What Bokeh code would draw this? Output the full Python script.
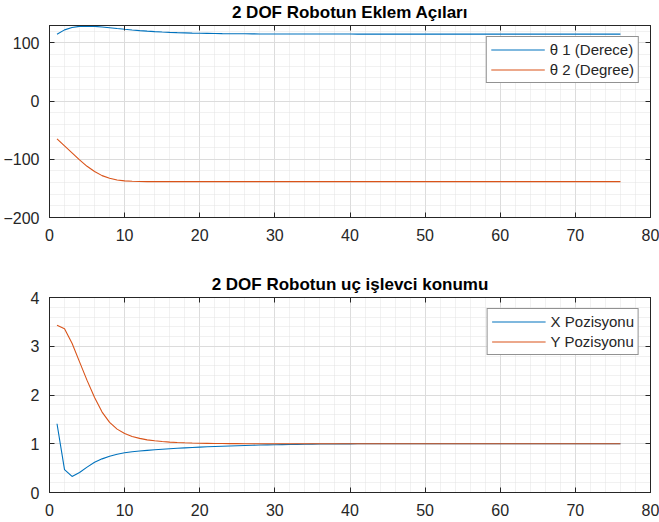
from bokeh.plotting import figure
from bokeh.models import Range1d, FixedTicker, LinearAxis, Legend, LegendItem
from bokeh.layouts import column
from bokeh.embed import file_html
from bokeh.resources import INLINE

# ---------------- data ----------------
step = list(range(1, 77))

theta1 = [115.0, 122.5, 126.5, 128.5, 129.0, 128.5, 127.5, 126.2, 124.8, 123.5,
          122.3, 121.2, 120.3, 119.5, 118.8, 118.2, 117.7, 117.3, 116.9, 116.6,
          116.4, 116.2, 116.0, 115.9, 115.8, 115.7, 115.6, 115.5, 115.5, 115.4,
          115.4, 115.4, 115.3, 115.3, 115.3, 115.3, 115.3, 115.3, 115.3, 115.3,
          115.2, 115.2, 115.2, 115.2, 115.2, 115.2, 115.2, 115.2, 115.2, 115.2,
          115.2, 115.2, 115.2, 115.2, 115.2, 115.2, 115.2, 115.2, 115.2, 115.2,
          115.2, 115.2, 115.2, 115.2, 115.2, 115.2, 115.2, 115.2, 115.2, 115.2,
          115.2, 115.2, 115.2, 115.2, 115.2, 115.2]

theta2 = [-65.0, -77.0, -89.0, -101.0, -112.0, -121.0, -128.0, -132.5, -135.5, -137.0,
          -137.8, -138.2, -138.3, -138.4, -138.4, -138.4, -138.4, -138.4, -138.4, -138.4,
          -138.4, -138.4, -138.4, -138.4, -138.4, -138.4, -138.4, -138.4, -138.4, -138.4,
          -138.4, -138.4, -138.4, -138.4, -138.4, -138.4, -138.4, -138.4, -138.4, -138.4,
          -138.4, -138.4, -138.4, -138.4, -138.4, -138.4, -138.4, -138.4, -138.4, -138.4,
          -138.4, -138.4, -138.4, -138.4, -138.4, -138.4, -138.4, -138.4, -138.4, -138.4,
          -138.4, -138.4, -138.4, -138.4, -138.4, -138.4, -138.4, -138.4, -138.4, -138.4,
          -138.4, -138.4, -138.4, -138.4, -138.4, -138.4]

x_pos = [1.41, 0.47, 0.33, 0.41, 0.52, 0.62, 0.69, 0.745, 0.785, 0.815,
         0.835, 0.85, 0.865, 0.877, 0.888, 0.898, 0.907, 0.916, 0.924, 0.931,
         0.938, 0.944, 0.95, 0.955, 0.96, 0.965, 0.969, 0.973, 0.977, 0.98,
         0.983, 0.986, 0.988, 0.99, 0.992, 0.994, 0.995, 0.996, 0.997, 0.998,
         0.999, 0.999, 0.999, 0.999, 1.0, 1.0, 1.0, 1.0, 1.0, 1.0,
         1.0, 1.0, 1.0, 1.0, 1.0, 1.0, 1.0, 1.0, 1.0, 1.0,
         1.0, 1.0, 1.0, 1.0, 1.0, 1.0, 1.0, 1.0, 1.0, 1.0,
         1.0, 1.0, 1.0, 1.0, 1.0, 1.0]

y_pos = [3.43, 3.36, 3.06, 2.68, 2.3, 1.95, 1.65, 1.44, 1.3, 1.21,
         1.15, 1.11, 1.08, 1.06, 1.045, 1.034, 1.026, 1.02, 1.015, 1.011,
         1.008, 1.006, 1.004, 1.003, 1.002, 1.001, 1.001, 1.0, 1.0, 1.0,
         1.0, 1.0, 1.0, 1.0, 1.0, 1.0, 1.0, 1.0, 1.0, 1.0,
         1.0, 1.0, 1.0, 1.0, 1.0, 1.0, 1.0, 1.0, 1.0, 1.0,
         1.0, 1.0, 1.0, 1.0, 1.0, 1.0, 1.0, 1.0, 1.0, 1.0,
         1.0, 1.0, 1.0, 1.0, 1.0, 1.0, 1.0, 1.0, 1.0, 1.0,
         1.0, 1.0, 1.0, 1.0, 1.0, 1.0]

x_ticks = [0, 10, 20, 30, 40, 50, 60, 70, 80]
top_y_ticks = [-200, -100, 0, 100]
bot_y_ticks = [0, 1, 2, 3, 4]

top_title = "2 DOF Robotun Eklem Açıları"
bot_title = "2 DOF Robotun uç işlevci konumu"
top_labels = ["θ 1 (Derece)", "θ 2 (Degree)"]
bot_labels = ["X Pozisyonu", "Y Pozisyonu"]

# ---------------- style ----------------
C1 = "#0072BD"
C2 = "#D95319"
AX = "#262626"
FONT = "Liberation Sans"


def style_axis(ax, ticker, labels=True):
    ax.ticker = ticker
    ax.axis_line_color = AX
    ax.axis_line_width = 1
    ax.major_tick_line_color = AX
    ax.major_tick_in = 5
    ax.major_tick_out = 0
    ax.minor_tick_line_color = None
    ax.major_label_text_font = FONT
    ax.major_label_text_color = AX
    if labels:
        ax.major_label_text_font_size = "16px"
        ax.major_label_standoff = 6
    else:
        ax.major_label_overrides = {t: "" for t in ticker.ticks}
        ax.major_label_text_font_size = "1px"
        ax.major_label_text_color = None
        ax.major_label_standoff = 0


def make_fig(height, btop, bbot, yr, yticks, yminor, title, xs, ys, labels):
    p = figure(width=659, height=height, x_range=Range1d(0, 80),
               y_range=Range1d(*yr), output_backend="svg", toolbar_location=None,
               min_border_left=49, min_border_right=9, min_border_top=btop,
               min_border_bottom=bbot)
    p.title.text = title
    p.title.text_font = FONT
    p.title.text_font_size = "17px"
    p.title.text_font_style = "bold"
    p.title.text_color = "#000000"
    p.title.align = "center"
    p.title.standoff = 0
    p.title.offset = 0

    xt = FixedTicker(ticks=x_ticks, minor_ticks=list(range(0, 81, 2)))
    yt = FixedTicker(ticks=yticks, minor_ticks=yminor)

    style_axis(p.xaxis[0], xt)
    style_axis(p.yaxis[0], yt)
    p.xaxis[0].major_label_standoff = 7
    top_ax = LinearAxis()
    right_ax = LinearAxis()
    style_axis(top_ax, xt, labels=False)
    style_axis(right_ax, yt, labels=False)
    p.add_layout(top_ax, "above")
    p.add_layout(right_ax, "right")

    for g in (p.xgrid[0], p.ygrid[0]):
        g.grid_line_color = "#dcdcdc"
        g.grid_line_width = 1
        g.minor_grid_line_color = "#e2e2e2"
        g.minor_grid_line_dash = "1 1"
    p.xgrid[0].ticker = xt
    p.ygrid[0].ticker = yt

    p.outline_line_color = AX
    p.background_fill_color = "white"
    p.border_fill_color = "white"

    r1 = p.line(step, ys[0], line_color=C1, line_width=1.1)
    r2 = p.line(step, ys[1], line_color=C2, line_width=1.1)

    leg = Legend(items=[LegendItem(label=labels[0], renderers=[r1]),
                        LegendItem(label=labels[1], renderers=[r2])],
                 location="top_right")
    leg.margin = 11
    leg.padding = 4
    leg.spacing = 3
    leg.glyph_width = 54
    leg.glyph_height = 17
    leg.label_height = 17
    leg.label_standoff = 5
    leg.label_text_font = FONT
    leg.label_text_font_size = "15px"
    leg.label_text_color = AX
    leg.border_line_color = AX
    leg.border_line_width = 1
    leg.background_fill_alpha = 1
    p.add_layout(leg)
    return p


top = make_fig(261, 21, 44, (-200, 130), top_y_ticks, list(range(-200, 131, 20)),
               top_title, step, (theta1, theta2), top_labels)
bot = make_fig(261, 36, 30, (0, 4), bot_y_ticks, [i / 5 for i in range(0, 21)],
               bot_title, step, (x_pos, y_pos), bot_labels)

layout = column(top, bot, spacing=0)
open("out.html", "w").write(file_html(layout, INLINE))
